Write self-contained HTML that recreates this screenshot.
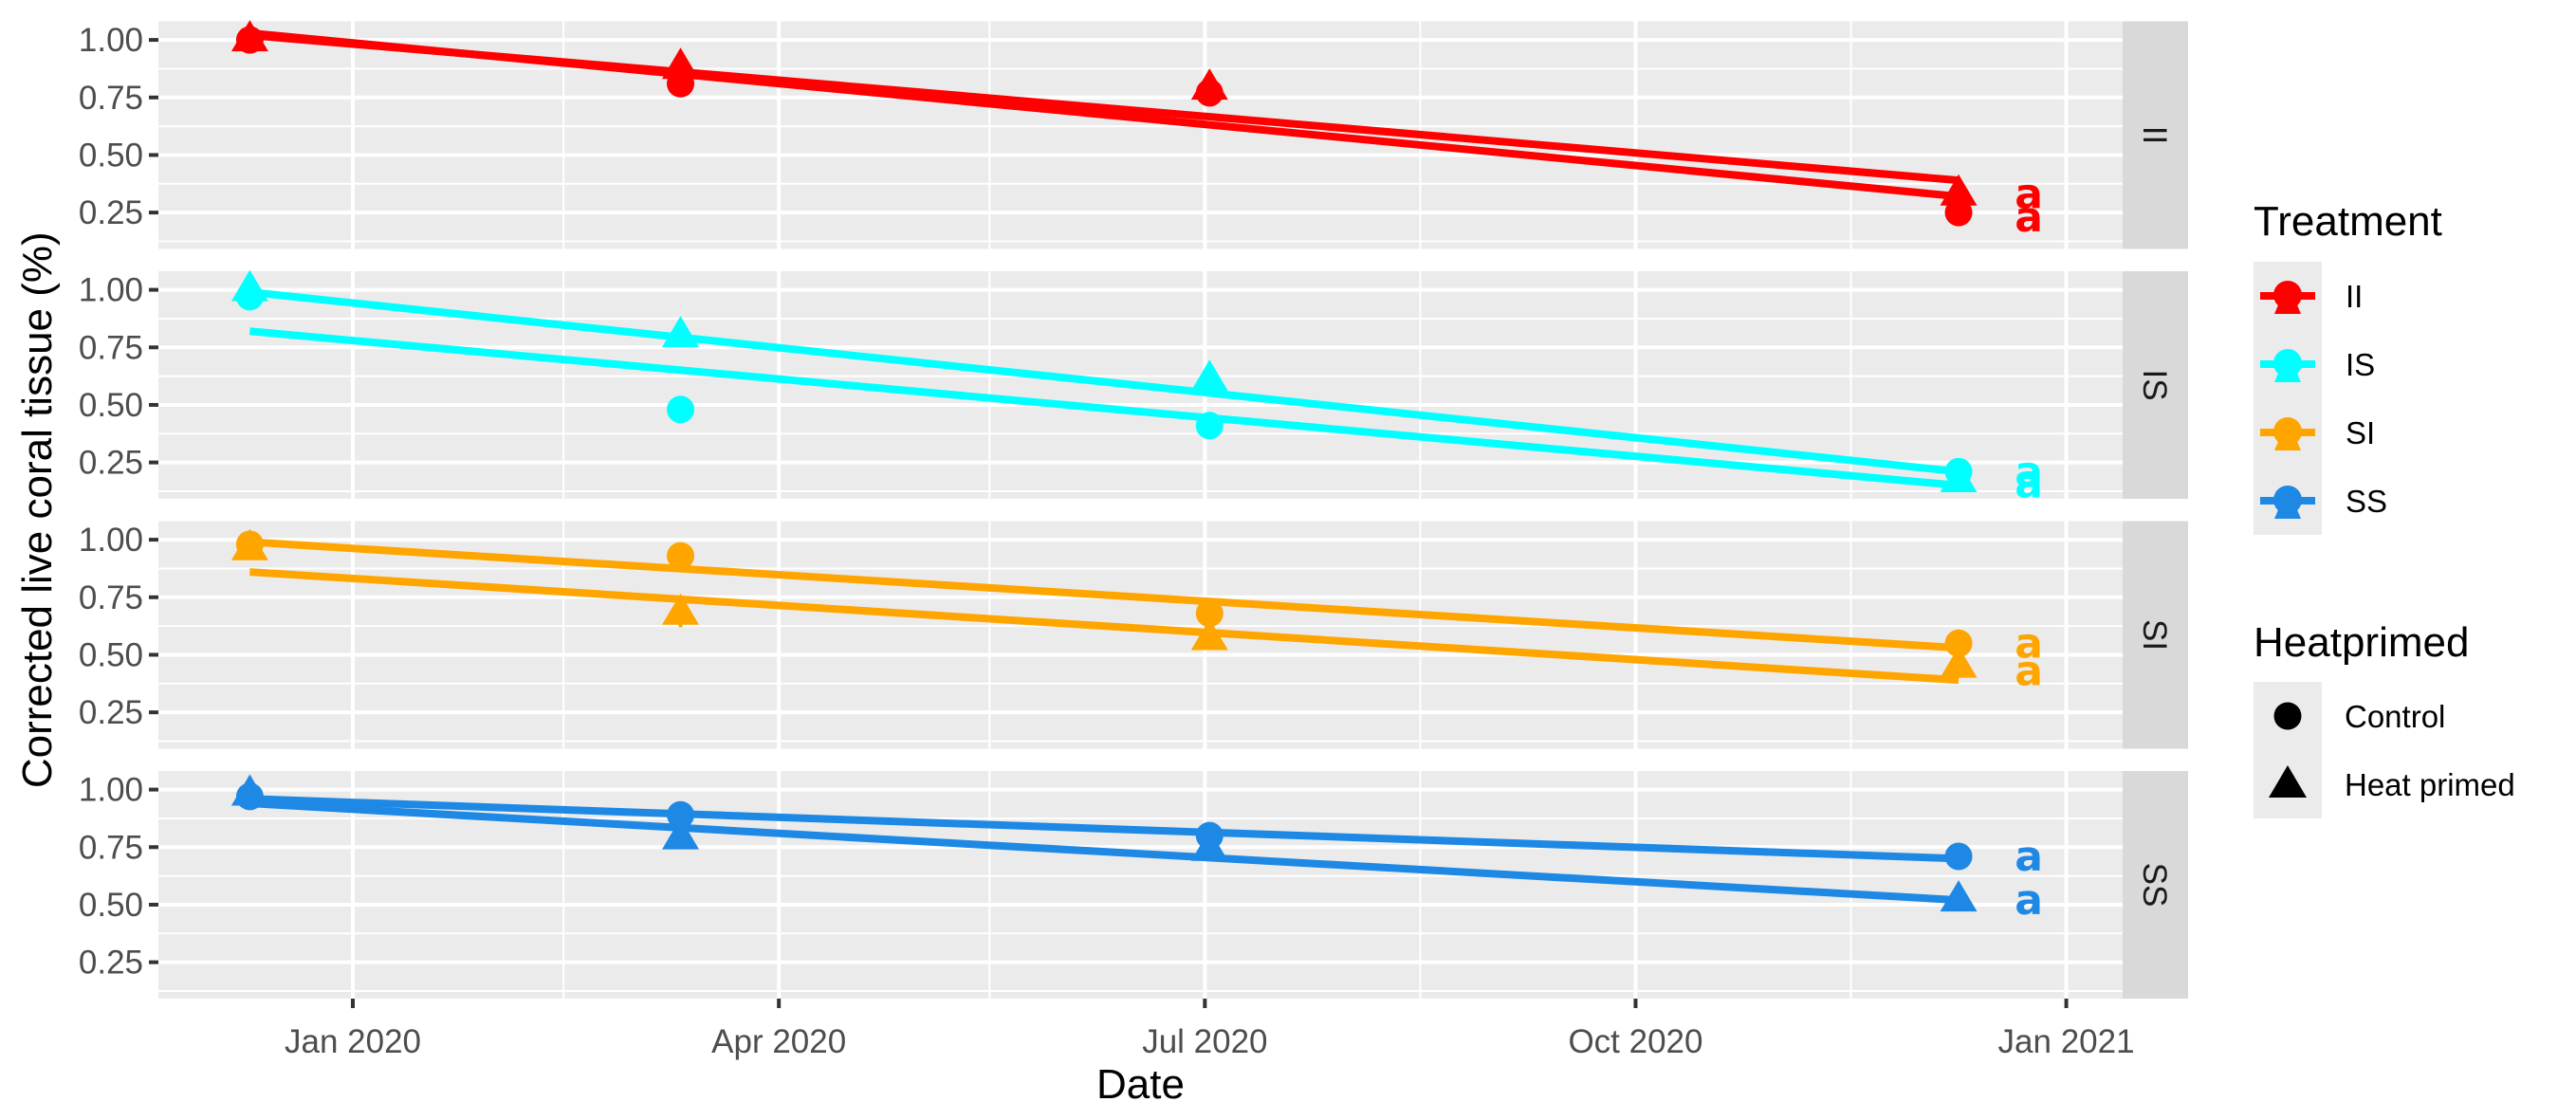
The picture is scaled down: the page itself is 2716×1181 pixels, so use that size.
<!DOCTYPE html>
<html><head><meta charset="utf-8"><style>
html,body{margin:0;padding:0;background:#fff}
svg{display:block;font-family:"Liberation Sans",sans-serif}
</style></head><body>
<svg id="chart" width="2716" height="1181" viewBox="0 0 2716 1181" xmlns="http://www.w3.org/2000/svg"></svg>
<script>
const panels = ["II","IS","SI","SS"];
const colors = ["#ff0000","#00ffff","#ffa500","#1e88e5"];
const dates = ["2019-12-10","2020-03-11","2020-07-02","2020-12-09"];
const controlVals = [[1.00,0.81,0.77,0.25],[0.97,0.48,0.41,0.21],[0.98,0.93,0.68,0.55],[0.97,0.89,0.80,0.71]];
const heatVals = [[1.00,0.88,0.79,0.33],[1.00,0.80,0.61,0.17],[0.96,0.68,0.57,0.45],[0.98,0.79,0.74,0.52]];
const controlErr = [[0.02,0.03,0.03,0.02],[0.03,0.05,0.04,0.05],[0.02,0.03,0.04,0.06],[0.02,0.02,0.03,0.05]];
const heatErr = [[0.02,0.03,0.03,0.02],[0.02,0.03,0.04,0.03],[0.03,0.06,0.04,0.04],[0.02,0.03,0.03,0.04]];
const controlFit = [[1.03,0.32],[0.82,0.15],[0.99,0.53],[0.96,0.70]];
const heatFit = [[1.02,0.39],[0.99,0.21],[0.86,0.39],[0.94,0.52]];
const letterControl = [0.23,0.21,0.55,0.71];
const letterHeat = [0.33,0.16,0.43,0.52];
const yTicks = [0.25,0.5,0.75,1.0];
const yTickLabels = ["0.25","0.50","0.75","1.00"];
const yMinor = [0.125,0.375,0.625,0.875];
const xTicks = ["2020-01-01","2020-04-01","2020-07-01","2020-10-01","2021-01-01"];
const xTickLabels = ["Jan 2020","Apr 2020","Jul 2020","Oct 2020","Jan 2021"];
const xMinor = ["2020-02-15","2020-05-16","2020-08-16","2020-11-16"];
const letterDate = "2020-12-24";

const svg = document.getElementById('chart');
const NS = "http://www.w3.org/2000/svg";
function mk(tag, attrs, parent){const e=document.createElementNS(NS,tag);for(const k in attrs)e.setAttribute(k,attrs[k]);(parent||svg).appendChild(e);return e;}
const PL=167, PR=2238, PH=240, P0=22.5, PG=263.5;
const dayMs=86400000, t0=Date.UTC(2020,0,1);
function dnum(s){const p=s.split('-');return (Date.UTC(+p[0],+p[1]-1,+p[2])-t0)/dayMs;}
function xs(s){return 372 + dnum(s)*4.936;}
function ys(v,i){return P0+i*PG+19.6+(1.0-v)*242.7;}

panels.forEach((name,i)=>{
  const top=P0+i*PG;
  const g=mk('g',{});  
  mk('rect',{x:PL,y:top,width:PR-PL,height:PH,fill:'#ebebeb'},g);
  yMinor.forEach(v=>mk('line',{x1:PL,x2:PR,y1:ys(v,i),y2:ys(v,i),stroke:'#fff','stroke-width':2},g));
  xMinor.forEach(d=>mk('line',{x1:xs(d),x2:xs(d),y1:top,y2:top+PH,stroke:'#fff','stroke-width':2},g));
  yTicks.forEach((v,k)=>{
    mk('line',{x1:PL,x2:PR,y1:ys(v,i),y2:ys(v,i),stroke:'#fff','stroke-width':4},g);
    mk('line',{x1:PL-10,x2:PL,y1:ys(v,i),y2:ys(v,i),stroke:'#333','stroke-width':4},g);
    const t=mk('text',{x:PL-16,y:ys(v,i)+12,'text-anchor':'end','font-size':35,fill:'#4d4d4d'},g);
    t.textContent=yTickLabels[k];
     
  });
  xTicks.forEach(d=>mk('line',{x1:xs(d),x2:xs(d),y1:top,y2:top+PH,stroke:'#fff','stroke-width':4},g));
  const s=mk('rect',{x:PR,y:top,width:69,height:PH,fill:'#d9d9d9'},g);
   
  const st=mk('text',{x:0,y:0,'text-anchor':'middle','font-size':35,fill:'#1a1a1a',transform:`translate(${PR+22},${top+PH/2}) rotate(90)`},g);
  st.textContent=name;
   
  const c=colors[i];
  [[controlFit[i],'control'],[heatFit[i],'heat']].forEach(([f,n])=>{
    const l=mk('line',{x1:xs(dates[0]),y1:ys(f[0],i),x2:xs(dates[3]),y2:ys(f[1],i),stroke:c,'stroke-width':8},g);
     
  });
  dates.forEach((d,k)=>{
    const x=xs(d);
    let v=controlVals[i][k], e=controlErr[i][k];
    mk('line',{x1:x,x2:x,y1:ys(v+e,i),y2:ys(v-e,i),stroke:c,'stroke-width':4},g);
    const p=mk('circle',{cx:x,cy:ys(v,i),r:14.5,fill:c},g);
     
    v=heatVals[i][k]; e=heatErr[i][k];
    mk('line',{x1:x,x2:x,y1:ys(v+e,i),y2:ys(v-e,i),stroke:c,'stroke-width':4},g);
    const y=ys(v,i);
    const tr=mk('polygon',{points:`${x},${y-21} ${x-19.5},${y+12} ${x+19.5},${y+12}`,fill:c},g);
     
  });
  [letterControl[i],letterHeat[i]].forEach(v=>{
    const t=mk('text',{x:xs(letterDate),y:ys(v,i)+15,'text-anchor':'middle','font-size':44,'font-weight':'bold','font-family':'"DejaVu Sans", "Liberation Sans", sans-serif',fill:c},g);
    t.textContent='a';
     
  });
});
const bottom=P0+3*PG+PH;
xTicks.forEach((d,k)=>{
  mk('line',{x1:xs(d),x2:xs(d),y1:bottom,y2:bottom+10,stroke:'#333','stroke-width':4});
  const t=mk('text',{x:xs(d),y:bottom+57,'text-anchor':'middle','font-size':35,fill:'#4d4d4d'});
  t.textContent=xTickLabels[k];
   
});
const xt=mk('text',{x:(PL+PR)/2,y:1158,'text-anchor':'middle','font-size':44,fill:'#000'});
xt.textContent='Date';
 
const yt=mk('text',{x:0,y:0,'text-anchor':'middle','font-size':44,fill:'#000',transform:`translate(54,${(P0+bottom)/2}) rotate(-90)`});
yt.textContent='Corrected live coral tissue (%)';
 
const LX=2376;
const lt=mk('text',{x:LX,y:248,'font-size':44,fill:'#000'}); lt.textContent='Treatment';
 
panels.forEach((n,k)=>{
  const cy=312+k*72;
  const g=mk('g',{});  
  mk('rect',{x:LX,y:cy-36,width:72,height:72,fill:'#ebebeb'},g);
  mk('line',{x1:LX+7,x2:LX+65,y1:cy,y2:cy,stroke:colors[k],'stroke-width':8},g);
  mk('polygon',{points:`${LX+36},${cy-14} ${LX+22},${cy+19} ${LX+50},${cy+19}`,fill:colors[k]},g);
  mk('circle',{cx:LX+36,cy:cy-1,r:15,fill:colors[k]},g);
  const t=mk('text',{x:LX+97,y:cy+12,'font-size':33,fill:'#000'},g); t.textContent=n;
});
const ht=mk('text',{x:LX,y:692,'font-size':44,fill:'#000'}); ht.textContent='Heatprimed';
 
["Control","Heat primed"].forEach((n,k)=>{
  const cy=755+k*72;
  const g=mk('g',{});  
  mk('rect',{x:LX,y:cy-36,width:72,height:72,fill:'#ebebeb'},g);
  if(k===0) mk('circle',{cx:LX+36,cy:cy,r:14.5,fill:'#000'},g);
  else mk('polygon',{points:`${LX+36},${cy-20} ${LX+16},${cy+14} ${LX+56},${cy+14}`,fill:'#000'},g);
  const t=mk('text',{x:LX+96,y:cy+12,'font-size':33,fill:'#000'},g); t.textContent=n;
});
</script>
</body></html>
